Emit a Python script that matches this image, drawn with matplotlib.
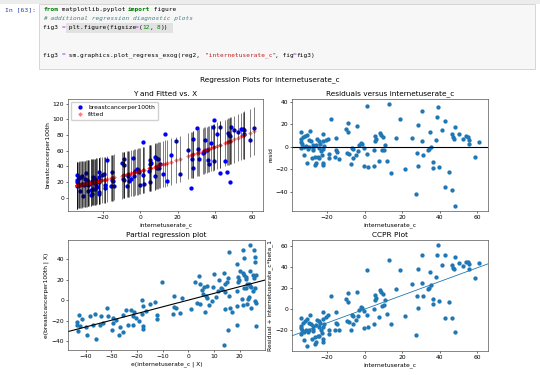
import numpy as np
import matplotlib.pyplot as plt
from matplotlib.patches import Rectangle

# gelesen aus dem Screenshot (x = internetuserate_c, y = breastcancerper100th)
internetuserate_c = [-33.6, -33.9, -33.0, -31.8, -30.9, -28.9, -33.9, -33.4, -32.5, -33.8, -31.3, -30.0, -32.3, -30.7,
                     -28.6, -27.7, -28.0, -26.4, -26.6, -25.9, -25.0, -24.1, -25.4, -24.5, -23.8, -25.9, -29.5, -23.4,
                     -22.9, -24.1, -22.3, -22.0, -22.0, -22.0, -20.5, -19.5, -19.1, -19.1, -18.0, -22.3, -21.4, -27.7,
                     -29.8, -27.3,
                     -15.2, -15.5, -15.2, -14.8, -13.8, -9.8, -8.8, -8.6, -9.3, -8.4, -7.1, -6.6, -6.3, -5.9, -4.8,
                     -4.1, -3.4, -2.7, -1.8, -1.3, -0.4, -0.2, 1.3, 1.4, 1.8, 4.8, 5.0, 5.4, 5.5, 5.9, 7.7, 8.0, 8.6,
                     9.1, 9.8, 10.2, 10.7, 12.0, 13.2, 14.3,
                     16.6, 19.1, 21.4, 25.5, 27.3, 27.9, 28.2, 28.4, 30.5, 30.7, 31.3, 33.8, 34.3, 34.8, 35.5, 36.3,
                     36.6, 37.9, 38.8, 39.3, 39.6, 41.3, 42.9, 42.9, 45.2, 46.6, 46.8, 47.3, 47.9, 48.2, 48.4, 50.2,
                     52.3, 54.1, 55.0, 55.7, 55.4, 58.6, 61.0]
breastcancerper100th = [29.3, 22.4, 25.0, 26.3, 27.7, 31.6, 20.3, 18.0, 16.0, 14.3, 17.4, 15.6, 8.8, 2.5,
                        23.2, 20.5, 8.8, 10.1, 3.3, 5.2, 11.1, 19.2, 26.2, 25.1, 23.0, 21.4, 17.6, 16.5,
                        13.7, 10.6, 32.9, 26.9, 7.4, 5.0, 28.6, 29.7, 12.5, 16.2, 48.1, 19.5, 22.0, 15.9,
                        23.9, 17.7,
                        32.8, 15.4, 22.1, 20.9, 15.3, 44.4, 49.6, 41.7, 23.3, 22.7, 14.6, 29.2, 27.9, 20.8, 24.2,
                        50.5, 28.1, 34.0, 36.8, 35.8, 33.0, 16.7, 71.6, 28.7, 17.7, 34.6, 20.1, 43.0, 47.9, 44.8, 27.1,
                        52.3, 50.7, 37.6, 49.3, 38.4, 42.9, 30.2, 81.3, 21.1,
                        53.9, 72.6, 29.7, 60.3, 12.5, 49.2, 37.5, 74.9, 88.8, 62.2, 49.9, 56.5, 58.0, 73.3, 61.1, 48.1,
                        43.2, 69.4, 90.5, 99.6, 46.5, 81.5, 31.8, 90.7, 47.1, 32.3, 83.1, 80.1, 79.2, 20.1, 90.3, 86.0,
                        83.5, 87.7, 87.7, 86.0, 81.7, 74.0, 89.4]

W, H = 540, 375
x = np.array(internetuserate_c)
y = np.array(breastcancerper100th)

# reg2: breastcancerper100th ~ internetuserate_c + I(internetuserate_c**2)
X = np.column_stack([np.ones_like(x), x, x ** 2])
params, *_ = np.linalg.lstsq(X, y, rcond=None)
fitted = X @ params
resid = y - fitted
n, k = X.shape
mse = resid @ resid / (n - k)
lev = np.einsum('ij,jk,ik->i', X, np.linalg.inv(X.T @ X), X)
half = 1.98 * np.sqrt(mse * (1 + lev))
iv_l, iv_u = fitted - half, fitted + half

# partielle Regression: beide gegen die restlichen Regressoren
Z = np.column_stack([np.ones_like(x), x ** 2])
ex = x - Z @ np.linalg.lstsq(Z, x, rcond=None)[0]
ey = y - Z @ np.linalg.lstsq(Z, y, rcond=None)[0]
b_part = (ex @ ey) / (ex @ ex)

plt.rcParams['font.family'] = 'DejaVu Sans'
plt.rcParams['axes.linewidth'] = 0.5
plt.rcParams['axes.edgecolor'] = '#555555'
plt.rcParams['xtick.major.size'] = 1.6
plt.rcParams['ytick.major.size'] = 1.6
plt.rcParams['xtick.major.width'] = 0.4
plt.rcParams['ytick.major.width'] = 0.4
plt.rcParams['xtick.major.pad'] = 1.2
plt.rcParams['ytick.major.pad'] = 1.2
plt.rcParams['xtick.labelsize'] = 4.3
plt.rcParams['ytick.labelsize'] = 4.3
plt.rcParams['axes.labelsize'] = 4.3
plt.rcParams['axes.titlesize'] = 5.3
plt.rcParams['axes.labelpad'] = 1.5
plt.rcParams['axes.titlepad'] = 2.5

MS = 3.1

fig = plt.figure(figsize=(W / 100, H / 100), dpi=100)

# --- Notebook-Zelle ---
fig.patches.append(Rectangle((0, 1 - 4 / H), 1, 4 / H, transform=fig.transFigure,
                             facecolor='#ececec', edgecolor='none'))
fig.patches.append(Rectangle((39 / W, 1 - 69 / H), 0.99 - 39 / W, 65 / H, transform=fig.transFigure,
                             facecolor='#f7f7f7', edgecolor='#cfcfcf', linewidth=0.6))
fig.patches.append(Rectangle((66 / W, 1 - 33 / H), 107 / W, 10 / H, transform=fig.transFigure,
                             facecolor='#e2e2e2', edgecolor='none'))
fig.text(5 / W, 1 - 9.5 / H, 'In [63]:', fontsize=4.6, color='#303F9F', va='center',
         family='DejaVu Sans Mono')

CHAR = 0.602 * 4.4 * 100 / 72  # px pro Zeichen


def code_line(y_px, tokens, x0=43):
    xp = x0
    for txt, col, weight, style in tokens:
        fig.text(xp / W, 1 - y_px / H, txt, fontsize=4.4, color=col, va='center',
                 family='DejaVu Sans Mono', fontweight=weight, fontstyle=style)
        xp += len(txt) * CHAR


K = '#008000'
code_line(9.5, [('from', K, 'bold', 'normal'), (' matplotlib.pyplot ', 'k', 'normal', 'normal'),
                ('import', K, 'bold', 'normal'), (' figure', 'k', 'normal', 'normal')])
code_line(18.5, [('# additional regression diagnostic plots', '#408080', 'normal', 'italic')])
code_line(27.5, [('fig3 ', 'k', 'normal', 'normal'), ('=', '#AA22FF', 'normal', 'normal'),
                 (' plt.figure(figsize', 'k', 'normal', 'normal'), ('=', '#AA22FF', 'normal', 'normal'),
                 ('(', 'k', 'normal', 'normal'), ('12', K, 'normal', 'normal'), (', ', 'k', 'normal', 'normal'),
                 ('8', K, 'normal', 'normal'), ('))', 'k', 'normal', 'normal')])
code_line(55, [('fig3 ', 'k', 'normal', 'normal'), ('=', '#AA22FF', 'normal', 'normal'),
               (' sm.graphics.plot_regress_exog(reg2,  ', 'k', 'normal', 'normal'),
               ('"internetuserate_c"', '#BA2121', 'normal', 'normal'), (', fig', 'k', 'normal', 'normal'),
               ('=', '#AA22FF', 'normal', 'normal'), ('fig3)', 'k', 'normal', 'normal')])

fig.text(270 / W, 1 - 80 / H, 'Regression Plots for internetuserate_c', fontsize=5.3, ha='center', va='center')

# --- Y and Fitted vs. X ---
ax1 = fig.add_axes([68 / W, 1 - 211 / H, 195 / W, 112 / H])
ax1.plot(x, y, 'bo', ms=MS, mew=0, label='breastcancerper100th')
ax1.plot(x, fitted, 'D', color='r', ms=2.4, mew=0, alpha=.5, label='fitted')
ax1.vlines(x, iv_l, iv_u, linewidth=0.5, color='k', alpha=.7)
ax1.set_ylim(-17, 126)
ax1.set_title('Y and Fitted vs. X')
ax1.set_xlabel('internetuserate_c')
ax1.set_ylabel('breastcancerper100th')
ax1.legend(loc='upper left', fontsize=4.3, handletextpad=0.4, borderpad=0.5, labelspacing=0.35,
           markerscale=1.0, framealpha=0.9)

# --- Residuen ---
ax2 = fig.add_axes([292 / W, 1 - 211 / H, 196 / W, 112 / H])
ax2.plot(x, resid, 'o', ms=MS, mew=0)
ax2.axhline(0, color='k', lw=0.8)
ax2.set_title('Residuals versus internetuserate_c')
ax2.set_xlabel('internetuserate_c')
ax2.set_ylabel('resid')

# --- Partial regression plot ---
ax3 = fig.add_axes([68 / W, 1 - 350 / H, 197 / W, 110 / H])
ax3.plot(ex, ey, 'o', ms=MS, mew=0)
xl = np.array(ax3.get_xlim())
ax3.autoscale(False)
ax3.plot(xl, b_part * xl, color='k', lw=0.8)
ax3.set_title('Partial regression plot')
ax3.set_xlabel('e(internetuserate_c | X)')
ax3.set_ylabel('e(breastcancerper100th | X)')

# --- CCPR ---
ax4 = fig.add_axes([292 / W, 1 - 351 / H, 196 / W, 111 / H])
ax4.plot(x, resid + params[1] * x, 'o', ms=MS, mew=0)
xl = np.array(ax4.get_xlim())
ax4.autoscale(False)
ax4.plot(xl, params[1] * xl, color='C0', lw=0.6)
ax4.set_title('CCPR Plot')
ax4.set_xlabel('internetuserate_c')
ax4.set_ylabel('Residual + internetuserate_c*beta_1')

fig.savefig('out.png', dpi=100)
